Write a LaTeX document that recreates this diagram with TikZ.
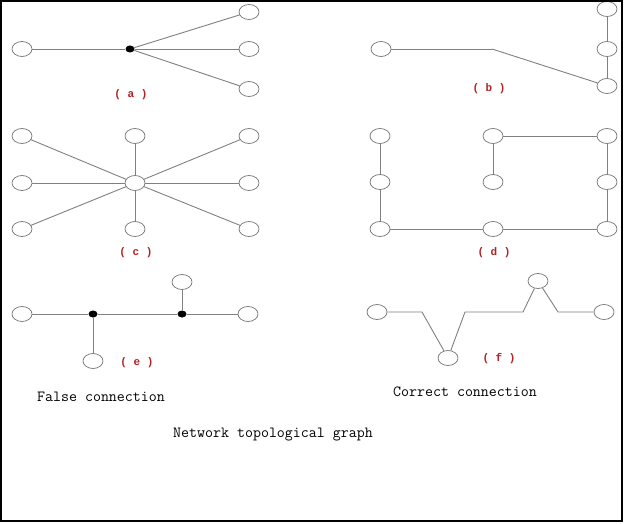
\documentclass[tikz,border=0pt]{standalone}
\usepackage{fontspec}
\newfontfamily\capfont{Liberation Mono}
\usetikzlibrary{shapes.geometric}
\definecolor{labred}{RGB}{175,35,35}

\begin{document}
\begin{tikzpicture}[x=1pt, y=-1pt,
station/.style = {ellipse, draw=black!55, fill=white, line width=0.7pt,
                  minimum width=20pt, minimum height=15pt, inner sep=0pt},
junction/.style = {ellipse, fill=black, minimum width=9pt,
                   minimum height=7pt, inner sep=0pt},
caption/.style = {font=\fontsize{11}{13}\selectfont\capfont\bfseries, text=labred},
remark/.style = {font=\fontsize{15.5}{18}\selectfont\ttfamily},
link/.style = {draw=black!50, line width=0.9pt},
                    ]
\useasboundingbox (0,0) rectangle (626,524);
%--- (a)
\node[station]  (a_l)  at (22,49)  {};
\node[junction] (a_j)  at (130,49) {};
\node[station]  (a_t)  at (249,12) {};
\node[station]  (a_m)  at (249,49) {};
\node[station]  (a_b)  at (249,89) {};
\node[caption]  (a_c)  at (131,95) {( a )};
\path[link]
        (a_l) edge (a_j)
        (a_j) edge (a_t)
        (a_j) edge (a_m)
        (a_j) edge (a_b);

%--- (b)
\node[station]  (b_l)  at (381,49) {};
\node[station]  (b_t)  at (607,9)  {};
\node[station]  (b_m)  at (607,49) {};
\node[station]  (b_b)  at (607,86) {};
\coordinate     (b_k)  at (492,49);
\node[caption]  (b_c)  at (489,89) {( b )};
\path[link]
        (b_l) edge (b_k)
        (b_k) edge (b_b)
        (b_b) edge (b_m)
        (b_m) edge (b_t);

%--- (c)
\node[station] (c_o) at (135,183) {};
\foreach \x/\c in {22/l, 135/m, 249/r}
  \foreach \y/\r in {136/t, 183/m, 229/b}
    {\ifnum\x=135 \ifnum\y=183 \else
        \node[station] (c_\c\r) at (\x,\y) {};
        \path[link] (c_o) edge (c_\c\r);
     \fi \else
        \node[station] (c_\c\r) at (\x,\y) {};
        \path[link] (c_o) edge (c_\c\r);
     \fi}
\node[caption] (c_c) at (136,253) {( c )};

%--- (d)
\foreach \x/\c in {380/l, 493/m, 607/r}
  \foreach \y/\r in {136/t, 182/m, 229/b}
    \node[station] (d_\c\r) at (\x,\y) {};
\node[caption] (d_c) at (494,253) {( d )};
\path[link]
        (d_lt) edge (d_lm)
        (d_lm) edge (d_lb)
        (d_lb) edge (d_mb)
        (d_mb) edge (d_rb)
        (d_rb) edge (d_rm)
        (d_rm) edge (d_rt)
        (d_rt) edge (d_mt)
        (d_mt) edge (d_mm);

%--- (e)
\node[station]  (e_l)  at (22,314)  {};
\node[junction] (e_j1) at (93,314)  {};
\node[junction] (e_j2) at (182,314) {};
\node[station]  (e_r)  at (248,314) {};
\node[station]  (e_t)  at (182,282) {};
\node[station]  (e_b)  at (93,361)  {};
\node[caption]  (e_c)  at (137,363) {( e )};
\path[link]
        (e_l)  edge (e_j1)
        (e_j1) edge (e_j2)
        (e_j2) edge (e_r)
        (e_j2) edge (e_t)
        (e_j1) edge (e_b);
\node[remark] (e_txt) at (101,397) {False connection};

%--- (f)
\node[station] (f_l) at (377,312) {};
\node[station] (f_b) at (448,358) {};
\node[station] (f_t) at (538,281) {};
\node[station] (f_r) at (604,312) {};
\coordinate (f_k1) at (422,312);
\coordinate (f_k2) at (465,312);
\coordinate (f_k3) at (523,312);
\coordinate (f_k4) at (558,312);
\node[caption] (f_c) at (499,359) {( f )};
\draw[link] (f_l) -- (f_k1) -- (f_b);
\draw[link] (f_b) -- (f_k2) -- (f_k3) -- (f_t);
\draw[link] (f_t) -- (f_k4) -- (f_r);
\node[remark] (f_txt) at (465,392) {Correct connection};

\node[remark] (title) at (273,435) {Network topological graph};

% frame
\draw[line width=2pt] (1,1) rectangle (622,521);
\end{tikzpicture}
\end{document}
